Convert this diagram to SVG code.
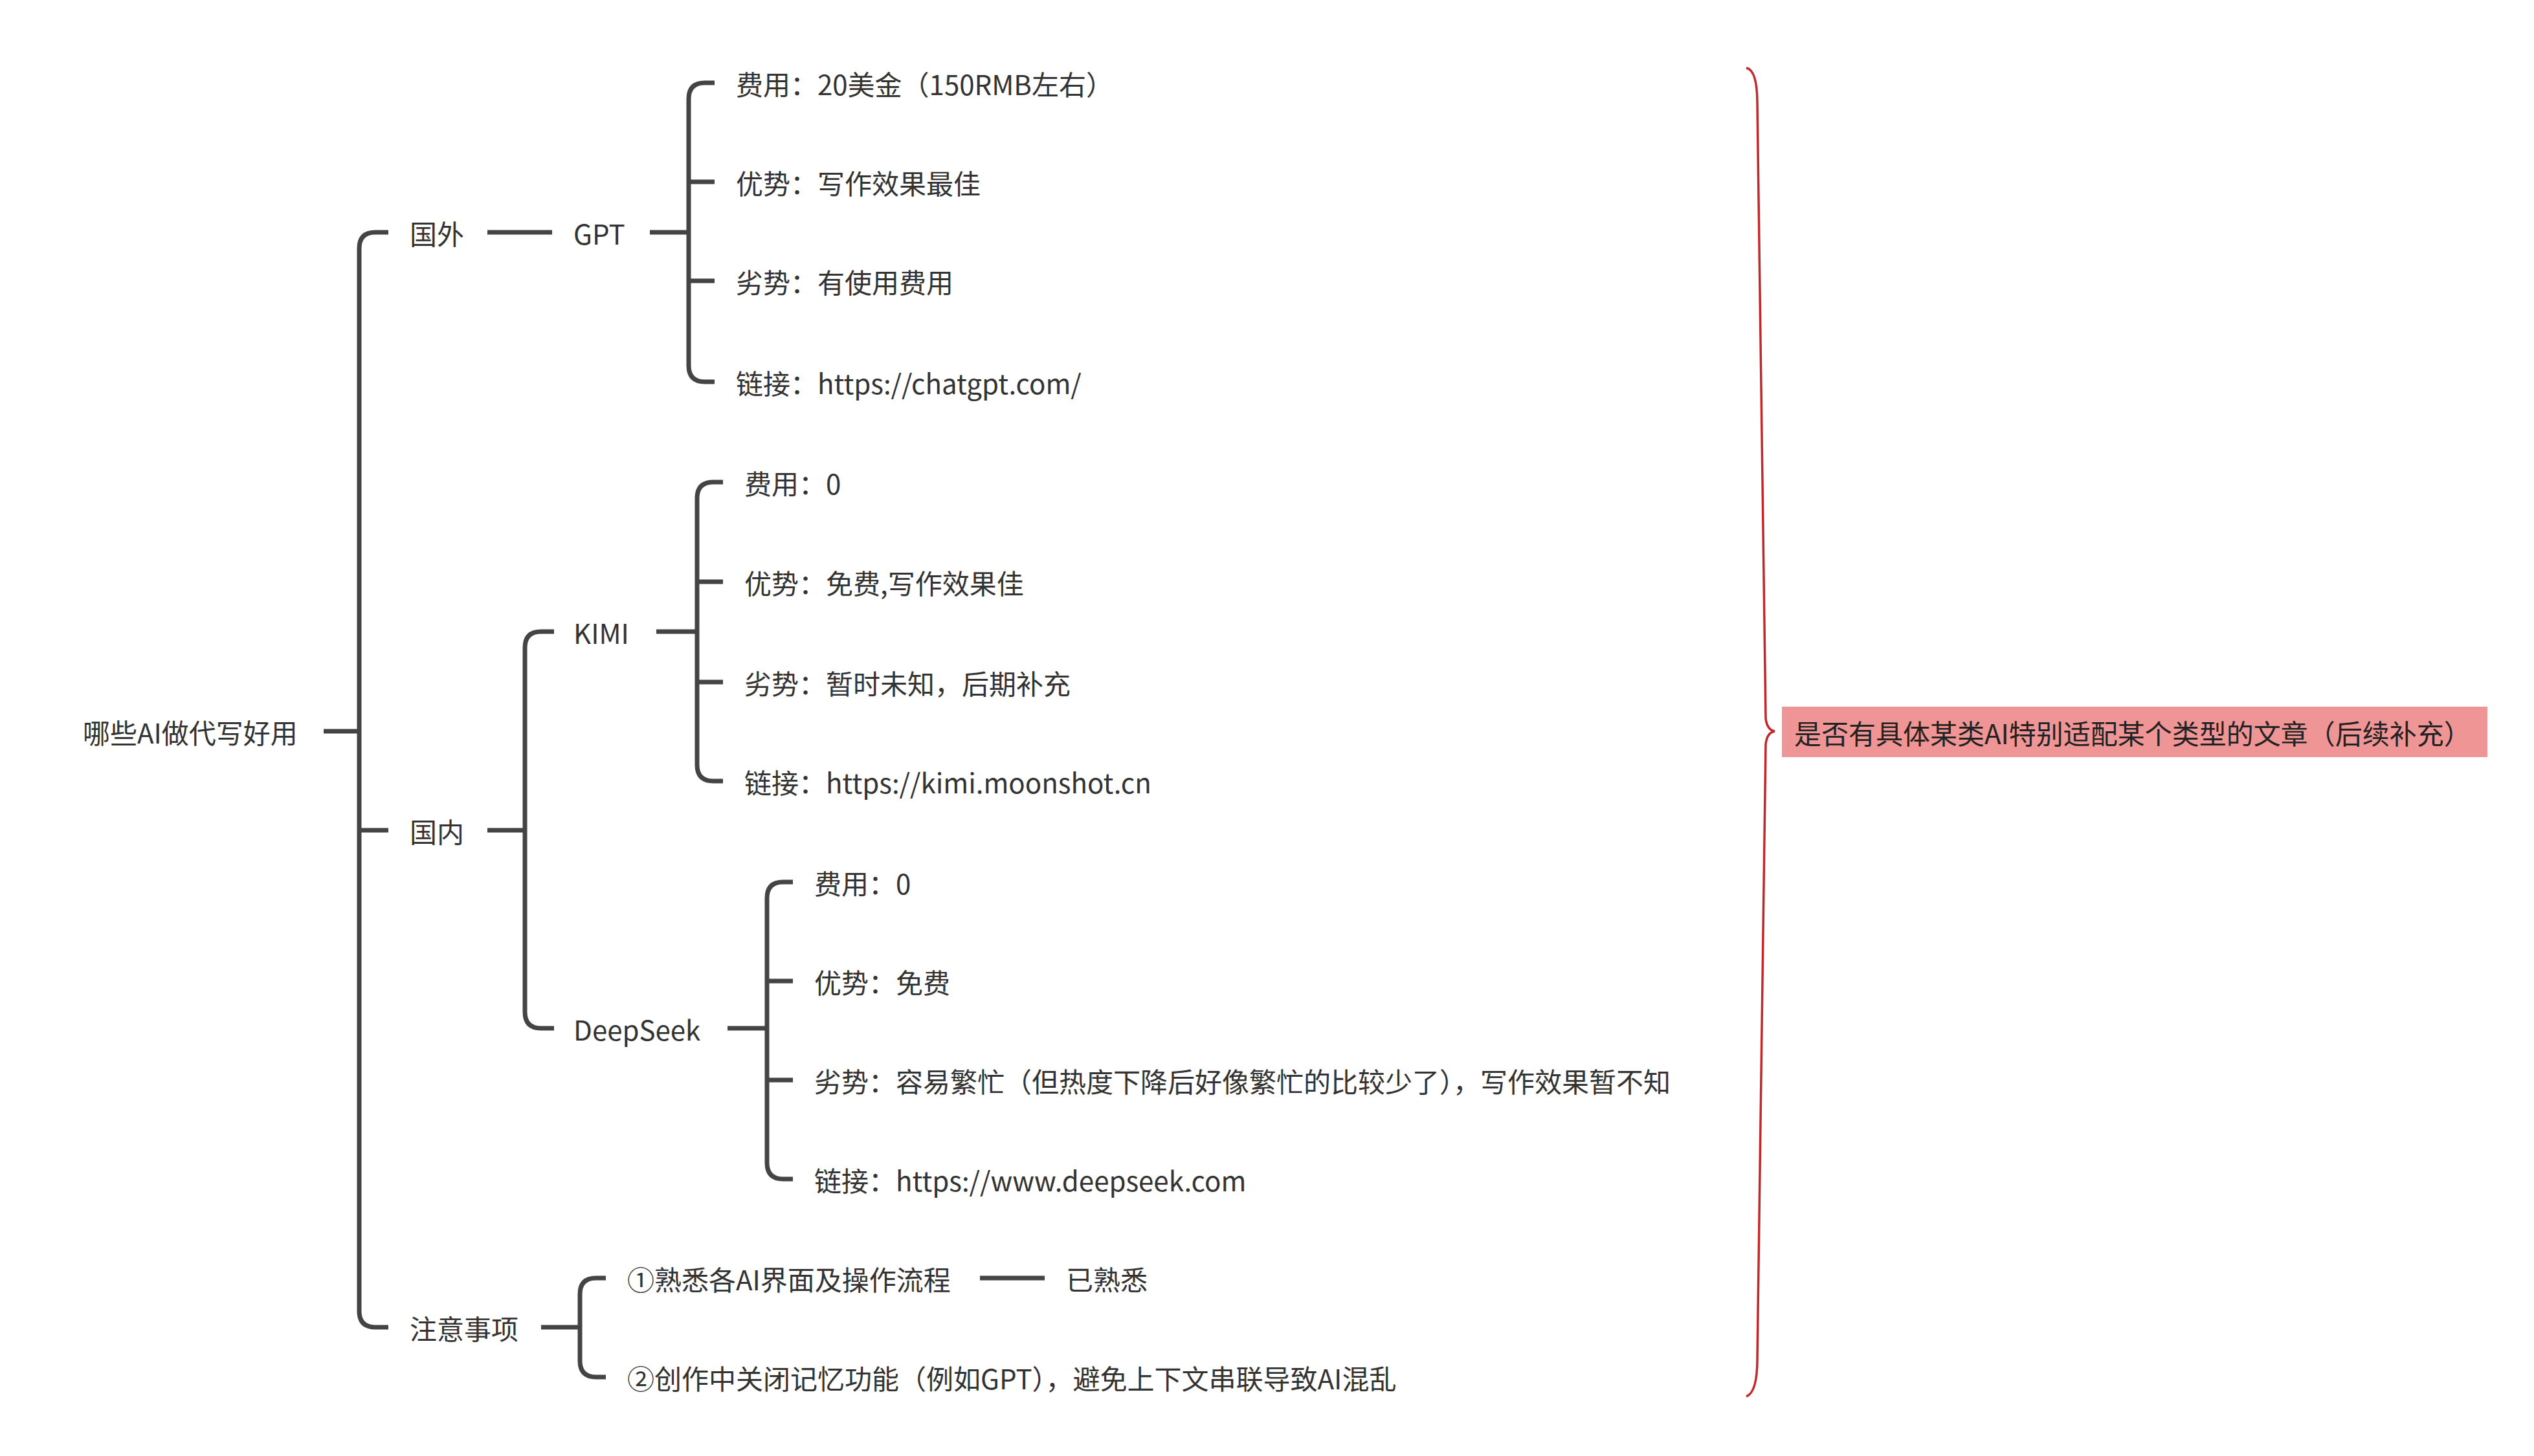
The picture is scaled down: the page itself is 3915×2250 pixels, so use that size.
<svg xmlns="http://www.w3.org/2000/svg" width="3915" height="2250" viewBox="0 0 3915 2250">
<style>
text{font-family:"Microsoft YaHei","Noto Sans CJK SC",sans-serif;font-size:42px;fill:#333;dominant-baseline:central}
.c{fill:none;stroke:#444;stroke-width:7;stroke-linecap:butt}
</style>
<rect width="3915" height="2250" fill="#fff"/>
<g id="connectors">
<path class="c" d="M500 1130H555"/>
<path class="c" d="M600 359H580Q555 359 555 384V2026Q555 2051 580 2051H600M555 1283H600"/>
<path class="c" d="M753 359H853M1004 359H1064"/>
<path class="c" d="M1104 128H1089Q1064 128 1064 153V565Q1064 590 1089 590H1104M1064 281H1104M1064 434H1104"/>
<path class="c" d="M753 1283H811"/>
<path class="c" d="M856 976H836Q811 976 811 1001V1564Q811 1589 836 1589H856"/>
<path class="c" d="M1014 976H1077"/>
<path class="c" d="M1117 745H1102Q1077 745 1077 770V1182Q1077 1207 1102 1207H1117M1077 899H1117M1077 1054H1117"/>
<path class="c" d="M1124 1589H1185"/>
<path class="c" d="M1225 1363H1210Q1185 1363 1185 1388V1797Q1185 1822 1210 1822H1225M1185 1516H1225M1185 1669H1225"/>
<path class="c" d="M836 2051H896"/>
<path class="c" d="M936 1975H921Q896 1975 896 2000V2103Q896 2128 921 2128H936"/>
<path class="c" d="M1514 1975H1614"/>
<path d="M2698 105Q2715 108 2715 160L2728 1110Q2730 1128 2742 1130Q2730 1132 2728 1150L2715 2100Q2715 2152 2698 2158" fill="none" stroke="#c0282a" stroke-width="3.5"/>
</g>
<g id="root"><text x="128" y="1130">哪些AI做代写好用</text></g>
<g id="guowai"><text x="633" y="359">国外</text></g>
<g id="gpt"><text x="886" y="359">GPT</text></g>
<g id="gpt-items">
<text x="1137" y="128">费用：20美金（150RMB左右）</text>
<text x="1137" y="281">优势：写作效果最佳</text>
<text x="1137" y="434">劣势：有使用费用</text>
<text x="1137" y="590">链接：https://chatgpt.com/</text>
</g>
<g id="guonei"><text x="633" y="1283">国内</text></g>
<g id="kimi"><text x="886" y="976">KIMI</text></g>
<g id="kimi-items">
<text x="1150" y="745">费用：0</text>
<text x="1150" y="899">优势：免费,写作效果佳</text>
<text x="1150" y="1054">劣势：暂时未知，后期补充</text>
<text x="1150" y="1207">链接：https://kimi.moonshot.cn</text>
</g>
<g id="deepseek"><text x="886" y="1589">DeepSeek</text></g>
<g id="deepseek-items">
<text x="1258" y="1363">费用：0</text>
<text x="1258" y="1516">优势：免费</text>
<text x="1258" y="1669">劣势：容易繁忙（但热度下降后好像繁忙的比较少了），写作效果暂不知</text>
<text x="1258" y="1822">链接：https://www.deepseek.com</text>
</g>
<g id="notes"><text x="633" y="2051">注意事项</text></g>
<g id="note-items">
<text x="969" y="1975">①熟悉各AI界面及操作流程</text>
<text x="1647" y="1975">已熟悉</text>
<text x="969" y="2128">②创作中关闭记忆功能（例如GPT），避免上下文串联导致AI混乱</text>
</g>
<g id="summary">
<rect x="2753" y="1092" width="1090" height="78" fill="#f09595"/>
<text x="2772" y="1131" style="fill:#222">是否有具体某类AI特别适配某个类型的文章（后续补充）</text>
</g>
</svg>
